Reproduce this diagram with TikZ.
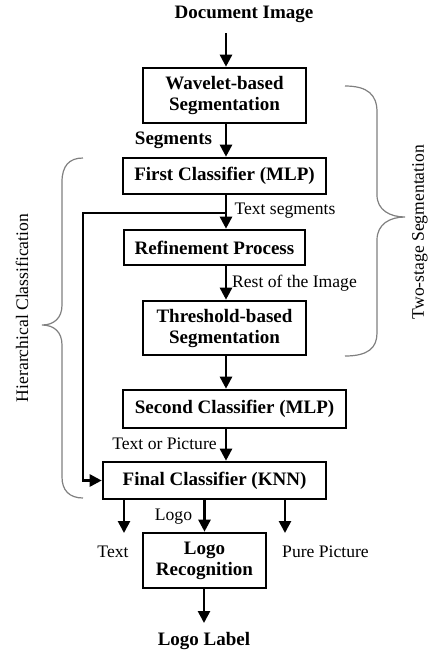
\documentclass[tikz,border=0pt]{standalone}
\usepackage{fontspec}
\setmainfont{Liberation Serif}
\usetikzlibrary{arrows.meta, calc, positioning}

\tikzset{
    blk/.style={draw, line width=1.3pt, inner sep=0pt, align=center,
                font=\fontsize{9.5}{10.5}\selectfont\bfseries},
    lbl/.style={inner sep=0pt, font=\fontsize{8.8}{10}\selectfont},
    blbl/.style={inner sep=0pt, font=\fontsize{9.5}{10.5}\selectfont\bfseries},
    arr/.style={line width=1.3pt, -{Triangle[length=6pt, width=6pt]}},
    brc/.style={draw=black!50, line width=0.6pt}
}

\begin{document}
\begin{tikzpicture}[x=0.5pt, y=-0.5pt]
                    \useasboundingbox (0, 0) rectangle (428, 650);

                    % blocks
                    \node[blk, minimum width=81.5pt, minimum height=27.5pt] (wave) at (224.5, 95.5) {Wavelet-based\\Segmentation};
                    \node[blk, minimum width=101.5pt, minimum height=18pt] (first) at (224.5, 176) {First Classifier (MLP)};
                    \node[blk, minimum width=90.5pt, minimum height=17.5pt] (refine) at (214.5, 247.5) {Refinement Process};
                    \node[blk, minimum width=81.5pt, minimum height=27pt] (thresh) at (224.5, 328) {Threshold-based\\Segmentation};
                    \node[blk, minimum width=111.5pt, minimum height=19pt] (second) at (234.5, 409) {Second Classifier (MLP)};
                    \node[blk, minimum width=111.5pt, minimum height=18.5pt] (final) at (214.5, 480.5) {Final Classifier (KNN)};
                    \node[blk, minimum width=61.5pt, minimum height=27.5pt] (logorec) at (204.5, 560.5) {Logo\\Recognition};

                    % texts
                    \node[blbl] (docimg) at (244, 14) {Document Image};
                    \node[blbl] (seg) at (173.5, 140) {Segments};
                    \node[lbl] (txtseg) at (285, 211) {Text segments};
                    \node[lbl] (rest) at (294.5, 283) {Rest of the Image};
                    \node[lbl] (txtpic) at (164.5, 444) {Text or Picture};
                    \node[lbl] (logo) at (173.5, 517) {Logo};
                    \node[lbl] (txt) at (113, 552) {Text};
                    \node[lbl] (pure) at (325.5, 552) {Pure Picture};
                    \node[blbl] (loglab) at (204, 641) {Logo Label};

                    \node[lbl, rotate=90] (hier) at (22, 308) {Hierarchical Classification};
                    \node[lbl, rotate=90] (twostage) at (420, 232) {Two-stage Segmentation};

                    % helper points
                    \coordinate (col) at (226, 0);
                    \coordinate (split) at (226, 213);
                    \coordinate (fb) at (83, 213);
                    \coordinate (txtend) at (124, 533);
                    \coordinate (pureend) at (285, 533);
                    \coordinate (docend) at (226, 33);
                    \coordinate (labend) at (204, 623);

                    % arrows
                    \draw[arr] (docend) -- (wave.north -| col);
                    \draw[arr] (wave.south -| col) -- (first.north -| col);
                    \draw[arr] (first.south -| col) -- (refine.north -| col);
                    \draw[arr] (refine.south -| col) -- (thresh.north -| col);
                    \draw[arr] (thresh.south -| col) -- (second.north -| col);
                    \draw[arr] (second.south -| col) -- (final.north -| col);
                    \draw[arr] (split) -- (fb) |- (final.west);
                    \draw[arr] (final.south -| txtend) -- (txtend);
                    \draw[arr] (final.south -| logorec.north) -- (logorec.north);
                    \draw[arr] (final.south -| pureend) -- (pureend);
                    \draw[arr] (logorec.south -| labend) -- (labend);

                    % braces
                    \draw[brc] (345, 86) .. controls (368, 86) and (377, 95) .. (377, 112)
                        -- (377, 195) .. controls (377, 210) and (390, 217) .. (405, 217)
                        .. controls (390, 217) and (377, 224) .. (377, 240)
                        -- (377, 333) .. controls (377, 348) and (368, 356) .. (345, 356);
                    \draw[brc] (83, 158) .. controls (69, 158) and (62, 166) .. (62, 182)
                        -- (62, 305) .. controls (62, 318) and (54, 325) .. (42, 325)
                        .. controls (54, 325) and (62, 332) .. (62, 345)
                        -- (62, 477) .. controls (62, 490) and (69, 498) .. (83, 498);
                \end{tikzpicture}
\end{document}
